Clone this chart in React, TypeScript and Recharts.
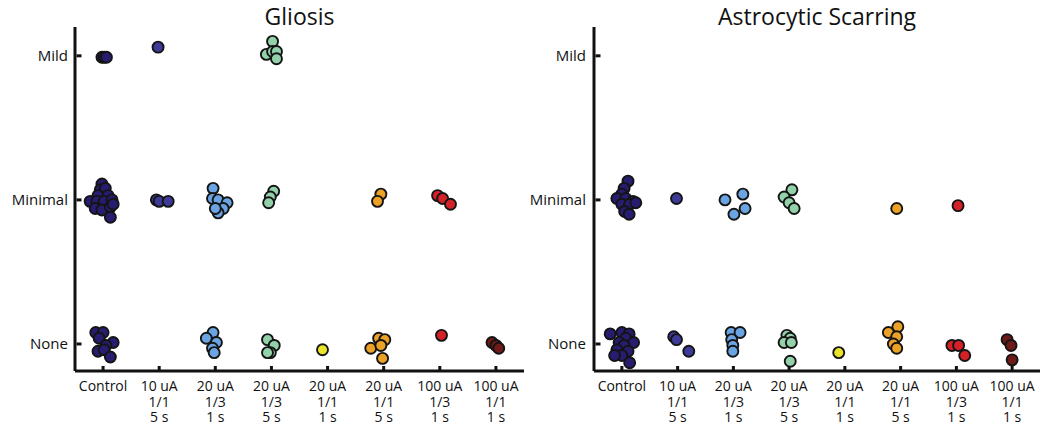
import React from 'react';
import { ScatterChart, Scatter, XAxis, YAxis } from 'recharts';

const groupLabels = [
  ['Control'],
  ['10 uA', '1/1', '5 s'],
  ['20 uA', '1/3', '1 s'],
  ['20 uA', '1/3', '5 s'],
  ['20 uA', '1/1', '1 s'],
  ['20 uA', '1/1', '5 s'],
  ['100 uA', '1/3', '1 s'],
  ['100 uA', '1/1', '1 s'],
];
const severityLabels = ['None', 'Minimal', 'Mild'];
const groupColors = ['#261c70', '#3d3a98', '#6ba4e3', '#93d1aa', '#e8e42a', '#eba125', '#d42128', '#6e1a17'];

// scores as [group index + jitter, severity + jitter]
const gliosisControl = [
  [-0.02, 1.99], [0.02, 1.99], [0.06, 1.99],
  [-0.02, 1.11], [-0.05, 1.07], [0.04, 1.08], [-0.09, 1.03], [0.09, 1.03], [-0.23, 0.99], [-0.11, 0.99],
  [0.02, 0.99], [0.16, 1.0], [-0.14, 0.94], [-0.02, 0.93], [0.13, 0.95], [0.18, 0.97], [0.13, 0.88],
  [-0.13, 0.08], [0, 0.08], [-0.07, 0.04], [0.18, 0.01], [0.05, -0.01], [-0.09, -0.05], [0.02, -0.04], [0.13, -0.09],
];
const gliosis10uA = [[0.98, 2.06], [0.95, 1.0], [1.0, 0.99], [1.16, 0.99]];
const gliosis20uA13_1s = [
  [1.96, 1.08], [1.95, 1.01], [2.05, 1.0], [2.21, 0.98], [2.14, 0.94], [2.05, 0.91], [2.0, 0.94],
  [1.96, 0.08], [1.84, 0.04], [2.02, 0.01], [1.95, -0.03], [1.98, -0.06],
];
const gliosis20uA13_5s = [
  [3.02, 2.1], [2.91, 2.01], [3.02, 2.03], [3.09, 2.03], [3.09, 1.98],
  [3.04, 1.06], [2.98, 1.02], [2.95, 0.98],
  [2.93, 0.03], [3.05, -0.01], [2.98, -0.06], [2.93, -0.06],
];
const gliosis20uA11_1s = [[3.91, -0.04]];
const gliosis20uA11_5s = [
  [4.95, 1.04], [4.89, 0.99],
  [4.91, 0.04], [5.02, 0.03], [4.77, -0.03], [4.95, -0.01], [4.98, -0.1],
];
const gliosis100uA13 = [[5.96, 1.03], [6.05, 1.01], [6.19, 0.97], [6.03, 0.06]];
const gliosis100uA11 = [[6.93, 0.01], [7.0, -0.01], [7.05, -0.03]];

const scarControl = [
  [0.11, 1.13], [0.04, 1.08], [0, 1.04], [-0.09, 1.01], [0.07, 1.01], [0.2, 0.99], [0, 0.97], [0.14, 0.97],
  [0.25, 0.98], [0.05, 0.92], [0.13, 0.9],
  [-0.21, 0.07], [0, 0.08], [0.13, 0.07], [0.07, 0.04], [0.21, 0.01], [-0.05, 0.01], [0.04, -0.01],
  [-0.09, -0.04], [0.11, -0.05], [0, -0.08], [-0.13, -0.08], [0.14, -0.13],
];
const scar10uA = [[0.98, 1.01], [0.93, 0.05], [0.98, 0.03], [1.2, -0.05]];
const scar20uA13_1s = [
  [1.85, 1.0], [2.17, 1.04], [2.21, 0.94], [2.01, 0.9],
  [1.96, 0.08], [2.12, 0.08], [1.97, 0.03], [1.99, -0.01], [1.99, -0.05],
];
const scar20uA13_5s = [
  [3.05, 1.07], [2.91, 1.02], [3.0, 0.98], [3.09, 0.94],
  [2.96, 0.06], [3.02, 0.04], [2.91, 0.01], [3.04, 0.01], [3.02, -0.12],
];
const scar20uA11_1s = [[3.89, -0.06]];
const scar20uA11_5s = [[4.93, 0.94], [4.95, 0.12], [4.78, 0.08], [4.93, 0.05], [4.87, 0], [4.93, -0.03]];
const scar100uA13 = [[6.03, 0.96], [5.92, -0.01], [6.04, -0.01], [6.15, -0.08]];
const scar100uA11 = [[6.91, 0.03], [6.98, -0.01], [7.0, -0.11]];

const gliosisGroups = [
  gliosisControl, gliosis10uA, gliosis20uA13_1s, gliosis20uA13_5s,
  gliosis20uA11_1s, gliosis20uA11_5s, gliosis100uA13, gliosis100uA11,
];
const scarGroups = [
  scarControl, scar10uA, scar20uA13_1s, scar20uA13_5s,
  scar20uA11_1s, scar20uA11_5s, scar100uA13, scar100uA11,
];

const FONT = '"Open Sans", sans-serif';
const HEIGHT = 427;

const XTick = (props: any) => {
  const { x, y, payload } = props;
  const lines = groupLabels[payload.value] || [];
  return (
    <g>
      <rect x={x - 1.5} y={y - 5} width={3} height={4} fill="#111" />
      {lines.map((l, i) => (
        <text key={i} x={x} y={y + 20 + i * 15.5} textAnchor="middle" fontFamily={FONT} fontSize={14} fill="#111">
          {l}
        </text>
      ))}
    </g>
  );
};

const YTick = (props: any) => {
  const { x, y, payload, gap } = props;
  return (
    <g>
      <rect x={x + 1.5} y={y - 1.5} width={5} height={3} fill="#111" />
      <text x={x - gap} y={y + 5} textAnchor="end" fontFamily={FONT} fontSize={15} fill="#111">
        {severityLabels[payload.value]}
      </text>
    </g>
  );
};

interface PanelProps {
  title: string;
  groups: number[][][];
  yAxisWidth: number;
  marginRight: number;
  labelGap: number;
}

const Panel: React.FC<PanelProps> = ({ title, groups, yAxisWidth, marginRight, labelGap }) => {
  const width = 525;
  const plotCenter = yAxisWidth + (width - yAxisWidth - marginRight) / 2;
  return (
    <div style={{ position: 'relative', width, height: HEIGHT }}>
      <ScatterChart width={width} height={HEIGHT} margin={{ top: 27, right: marginRight, left: 0, bottom: 0 }}>
        <XAxis
          type="number"
          dataKey="x"
          domain={[-0.5, 7.5]}
          ticks={[0, 1, 2, 3, 4, 5, 6, 7]}
          interval={0}
          allowDataOverflow
          height={56}
          axisLine={{ stroke: '#111', strokeWidth: 3 }}
          tickLine={false}
          tickSize={0}
          tickMargin={0}
          tick={<XTick />}
        />
        <YAxis
          type="number"
          dataKey="y"
          domain={[-0.1875, 2.2]}
          ticks={[0, 1, 2]}
          interval={0}
          allowDataOverflow
          width={yAxisWidth}
          axisLine={{ stroke: '#111', strokeWidth: 3 }}
          tickLine={false}
          tickSize={0}
          tickMargin={0}
          tick={<YTick gap={labelGap} />}
        />
        {groups.map((pts, i) => (
          <Scatter
            key={i}
            data={pts.map(([x, y]) => ({ x, y }))}
            fill={groupColors[i]}
            isAnimationActive={false}
            shape={(p: any) => (
              <circle cx={p.cx} cy={p.cy} r={5.5} fill={groupColors[i]} stroke="#141414" strokeWidth={1.9} />
            )}
          />
        ))}
      </ScatterChart>
      <svg width={width} height={40} style={{ position: 'absolute', left: 0, top: 0, overflow: 'visible' }}>
        <text x={plotCenter} y={25} textAnchor="middle" fontFamily={FONT} fontSize={23} fill="#111">
          {title}
        </text>
      </svg>
    </div>
  );
};

export default function App() {
  return (
    <div style={{ position: 'absolute', left: 0, top: 0, width: 1050, height: HEIGHT, background: '#fff', display: 'flex' }}>
      <Panel title="Gliosis" groups={gliosisGroups} yAxisWidth={75} marginRight={1} labelGap={7} />
      <Panel title="Astrocytic Scarring" groups={scarGroups} yAxisWidth={69} marginRight={10} labelGap={8} />
    </div>
  );
}
